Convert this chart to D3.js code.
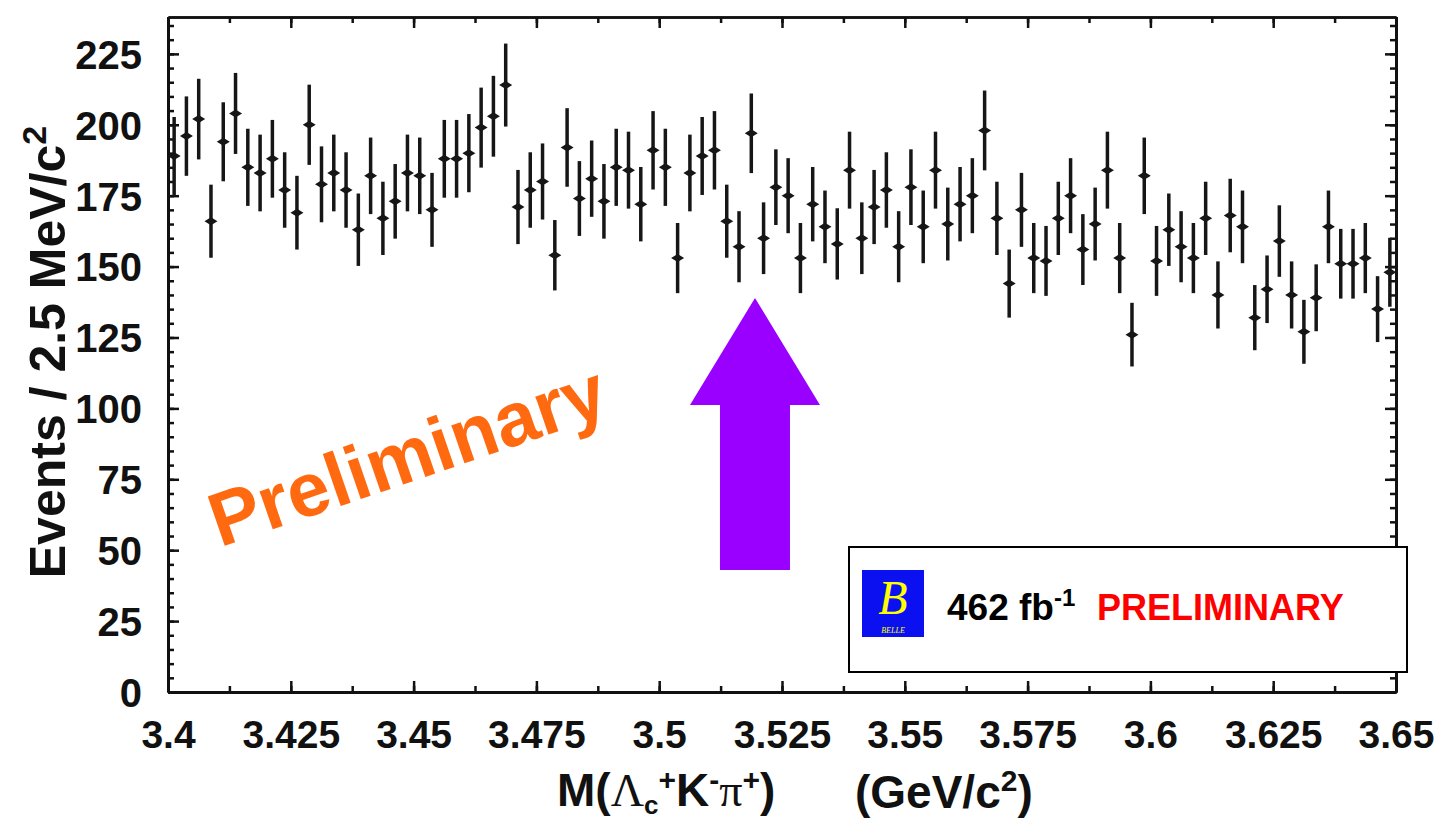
<!DOCTYPE html>
<html>
<head>
<meta charset="utf-8">
<script src="https://cdn.jsdelivr.net/npm/d3@7"></script>
<style>
  body { margin: 0; background: #fff; }
  svg { display: block; }
</style>
</head>
<body>
<svg id="chart" width="1437" height="822"></svg>
<script>
// Histogram: M(Lambda_c+ K- pi+), 2.5 MeV bins from 3.40 to 3.65 GeV
const binLow = 3.4;
const binWidth = 0.0025;
const counts = [
  189, 196, 202, 166, 194, 204, 185, 183, 188, 177,
  169, 200, 179, 183, 177, 163, 182, 167, 173, 183,
  182, 170, 188, 188, 190, 199, 203, 214, 171, 177,
  180, 154, 192, 174, 181, 173, 185, 184, 172, 191,
  185, 153, 183, 189, 191, 166, 157, 197, 160, 178,
  175, 153, 172, 164, 158, 184, 160, 171, 177, 157,
  178, 164, 184, 165, 172, 175, 198, 167, 144, 170,
  153, 152, 167, 175, 156, 165, 184, 153, 126, 182,
  152, 163, 157, 153, 167, 140, 168, 164, 132, 142,
  159, 140, 127, 139, 164, 151, 151, 153, 135, 148
];
const yTicks = [0, 25, 50, 75, 100, 125, 150, 175, 200, 225];
const yMinorTicks = d3.range(0, 240, 5);
const xTicks = [3.4, 3.425, 3.45, 3.475, 3.5, 3.525, 3.55, 3.575, 3.6, 3.625, 3.65];
const xTickLabels = ["3.4", "3.425", "3.45", "3.475", "3.5", "3.525", "3.55", "3.575", "3.6", "3.625", "3.65"];
const xMinorTicks = d3.range(0, 21).map(i => 3.4 + i * 0.0125);
const arrowAt = 3.5195;

const svg = d3.select("#chart");
const plotLeft = 168, plotRight = 1396, plotTop = 17, plotBottom = 692;

const x = d3.scaleLinear().domain([3.4, 3.65]).range([plotLeft, plotRight]);
const y = d3.scaleLinear().domain([0, 238]).range([plotBottom, plotTop]);

const font = "'Liberation Sans', Arial, Helvetica, sans-serif";
const serif = "'Liberation Serif', 'Times New Roman', serif";

function styleAxis(g, w) {
  g.select(".domain").attr("stroke", "#111").attr("stroke-width", w);
  g.selectAll(".tick line").attr("stroke", "#111").attr("stroke-width", 2.5);
  g.selectAll(".tick text")
    .attr("fill", "#111")
    .style("font-family", font)
    .style("font-weight", "bold");
}

// minor ticks first
svg.append("g")
  .attr("transform", `translate(${plotLeft},0)`)
  .call(d3.axisLeft(y).tickValues(yMinorTicks).tickSize(-6).tickSizeOuter(0).tickFormat(""))
  .call(g => styleAxis(g, 3));
svg.append("g")
  .attr("transform", `translate(${plotRight},0)`)
  .call(d3.axisRight(y).tickValues(yMinorTicks).tickSize(-6).tickSizeOuter(0).tickFormat(""))
  .call(g => styleAxis(g, 3));
svg.append("g")
  .attr("transform", `translate(0,${plotBottom})`)
  .call(d3.axisBottom(x).tickValues(xMinorTicks).tickSize(-6).tickSizeOuter(0).tickFormat(""))
  .call(g => styleAxis(g, 3));
svg.append("g")
  .attr("transform", `translate(0,${plotTop})`)
  .call(d3.axisTop(x).tickValues(xMinorTicks).tickSize(-6).tickSizeOuter(0).tickFormat(""))
  .call(g => styleAxis(g, 2.5));

// major ticks with labels
svg.append("g")
  .attr("transform", `translate(${plotLeft},0)`)
  .call(d3.axisLeft(y).tickValues(yTicks).tickSize(-11).tickSizeOuter(0).tickPadding(26))
  .call(g => styleAxis(g, 3))
  .call(g => g.selectAll(".tick text").style("font-size", "40px").attr("dy", "0.36em"));
svg.append("g")
  .attr("transform", `translate(${plotRight},0)`)
  .call(d3.axisRight(y).tickValues(yTicks).tickSize(-11).tickSizeOuter(0).tickFormat(""))
  .call(g => styleAxis(g, 3));
svg.append("g")
  .attr("transform", `translate(0,${plotBottom})`)
  .call(d3.axisBottom(x).tickValues(xTicks).tickSize(-11).tickSizeOuter(0).tickPadding(28)
    .tickFormat((d, i) => xTickLabels[i]))
  .call(g => styleAxis(g, 3))
  .call(g => g.selectAll(".tick text").style("font-size", "39px"));
svg.append("g")
  .attr("transform", `translate(0,${plotTop})`)
  .call(d3.axisTop(x).tickValues(xTicks).tickSize(-11).tickSizeOuter(0).tickFormat(""))
  .call(g => styleAxis(g, 2.5));

// data points with Poisson error bars
const bins = counts.map((n, i) => ({ m: binLow + binWidth * (i + 0.5), n: n, err: Math.sqrt(n) }));
const pts = svg.append("g");
pts.selectAll("line")
  .data(bins)
  .enter()
  .append("line")
  .attr("x1", d => x(d.m))
  .attr("x2", d => x(d.m))
  .attr("y1", d => y(d.n - d.err))
  .attr("y2", d => y(d.n + d.err))
  .attr("stroke", "#161616")
  .attr("stroke-width", 3.5);
pts.selectAll("path")
  .data(bins)
  .enter()
  .append("path")
  .attr("transform", d => `translate(${x(d.m)},${y(d.n)})`)
  .attr("d", "M-6.5,0L0,-4L6.5,0L0,4Z")
  .attr("fill", "#161616");

// y axis title
svg.append("text")
  .attr("transform", "translate(65,352) rotate(-90)")
  .attr("text-anchor", "middle")
  .style("font-family", font)
  .style("font-weight", "bold")
  .style("font-size", "50px")
  .attr("fill", "#111")
  .text("Events / 2.5 MeV/c")
  .append("tspan")
  .attr("dy", "-0.55em")
  .style("font-size", "34px")
  .text("2");

// x axis title
const xt = svg.append("text")
  .attr("x", 557)
  .attr("y", 806)
  .style("font-family", font)
  .style("font-weight", "bold")
  .style("font-size", "46px")
  .attr("fill", "#111");
xt.append("tspan").text("M(");
xt.append("tspan").style("font-family", serif).style("font-weight", "normal").text("\u039B");
xt.append("tspan").attr("dy", 8).style("font-size", "26px").text("c");
xt.append("tspan").attr("dy", -24).style("font-size", "30px").text("+");
xt.append("tspan").attr("dy", 16).text("K");
xt.append("tspan").attr("dy", -16).style("font-size", "30px").text("-");
xt.append("tspan").attr("dy", 16).style("font-family", serif).style("font-weight", "normal").text("\u03C0");
xt.append("tspan").attr("dy", -16).style("font-size", "30px").text("+");
xt.append("tspan").attr("dy", 16).text(")");

const xu = svg.append("text")
  .attr("x", 855)
  .attr("y", 808)
  .style("font-family", font)
  .style("font-weight", "bold")
  .style("font-size", "46px")
  .attr("fill", "#111");
xu.append("tspan").text("(GeV/c");
xu.append("tspan").attr("dy", -17).style("font-size", "30px").text("2");
xu.append("tspan").attr("dy", 17).text(")");

// "Preliminary" stamp
svg.append("text")
  .attr("transform", "translate(407,455) rotate(-19)")
  .attr("text-anchor", "middle")
  .attr("dy", "0.35em")
  .style("font-family", font)
  .style("font-weight", "bold")
  .style("font-size", "76px")
  .attr("fill", "#ff6a10")
  .text("Preliminary");

// purple arrow
const ax = x(arrowAt);
svg.append("path")
  .attr("d", `M${ax - 35},570 L${ax - 35},405 L${ax - 65},405 L${ax},298 L${ax + 65},405 L${ax + 35},405 L${ax + 35},570 Z`)
  .attr("fill", "#9a00ff");

// legend box
const lg = svg.append("g");
lg.append("rect")
  .attr("x", 849).attr("y", 547).attr("width", 558).attr("height", 125)
  .attr("fill", "#fff").attr("stroke", "#000").attr("stroke-width", 2);
lg.append("rect")
  .attr("x", 862).attr("y", 570).attr("width", 62).attr("height", 67)
  .attr("fill", "#0a10f0");
lg.append("text")
  .attr("x", 893).attr("y", 614)
  .attr("text-anchor", "middle")
  .style("font-family", serif)
  .style("font-style", "italic")
  .style("font-size", "48px")
  .attr("fill", "#ffff00")
  .text("B");
lg.append("text")
  .attr("x", 893).attr("y", 633)
  .attr("text-anchor", "middle")
  .style("font-family", serif)
  .style("font-style", "italic")
  .style("font-size", "8px")
  .attr("fill", "#ffff00")
  .text("BELLE");
const lumi = lg.append("text")
  .attr("x", 947).attr("y", 620)
  .style("font-family", font)
  .style("font-weight", "bold")
  .style("font-size", "37px")
  .attr("fill", "#000");
lumi.append("tspan").text("462 fb");
lumi.append("tspan").attr("dy", -14).style("font-size", "24px").text("-1");
lg.append("text")
  .attr("x", 1097).attr("y", 620)
  .style("font-family", font)
  .style("font-weight", "bold")
  .style("font-size", "36px")
  .attr("fill", "#ff0000")
  .text("PRELIMINARY");
</script>
</body>
</html>
